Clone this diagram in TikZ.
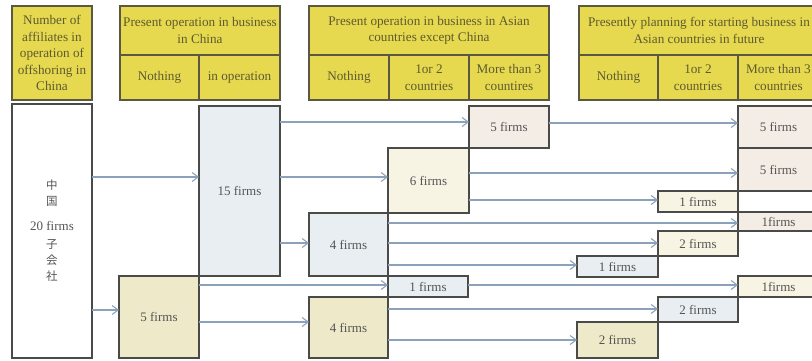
\documentclass[tikz,border=0pt]{standalone}
\usepackage{fontspec}
\setmainfont{Liberation Serif}
\newfontfamily\cjkfont{Noto Sans CJK JP}
\usetikzlibrary{arrows.meta}

\definecolor{hdr}{HTML}{E6D94F}
\definecolor{hdrtext}{HTML}{5E5A30}
\definecolor{hdrbord}{HTML}{5A5840}
\definecolor{bordercol}{HTML}{4A4A48}
\definecolor{linecol}{HTML}{8CA2BA}
\definecolor{fblue}{HTML}{E8EEF2}
\definecolor{fkhaki}{HTML}{EEE9C8}
\definecolor{fpink}{HTML}{F4EDE6}
\definecolor{fcream}{HTML}{F8F4E4}
\definecolor{bodytext}{HTML}{555555}

% \bx{style}{name}{x1}{y1}{x2}{y2}{text}
\newcommand\bx[7]{%
  \node[#1, minimum width={(#5-#3)*1pt}, minimum height={(#6-#4)*1pt}]
    (#2) at ({(#3+#5)/2},{(#4+#6)/2}) {#7};}
\newcommand\ar[3]{\draw[arr] (#1.east |- 0,#3) -- (#2.west |- 0,#3);}
\newcommand\cj[1]{{\cjkfont\fontsize{11.5}{16}\selectfont #1}}

\tikzset{
  hbox/.style={draw=hdrbord, line width=1.3pt, fill=hdr, text=hdrtext,
    font=\fontsize{13.2}{16.5}\selectfont, align=center, inner sep=0pt, outer sep=0pt},
  fbox/.style={draw=bordercol, line width=2.6pt, text=bodytext,
    font=\fontsize{13}{16}\selectfont, align=center, inner sep=0pt, outer sep=0pt},
  arr/.style={draw=linecol, line width=1.1pt, -{Straight Barb[length=6pt,width=9pt]}},
}

\begin{document}
\begin{tikzpicture}[x=1pt,y=-1pt]
\clip (0,0) rectangle (812,361);
\fill[white] (0,0) rectangle (812,361);

% headers
\bx{hbox}{h1}{12}{6}{92}{100}{Number of\\affiliates in\\operation of\\offshoring in\\China}
\bx{hbox}{h2t}{120}{6}{280}{55}{Present operation in business\\in China}
\bx{hbox}{h2a}{120}{55}{199}{100}{Nothing}
\bx{hbox}{h2b}{199}{55}{280}{100}{in operation}
\bx{hbox}{h3t}{309}{6}{549}{55}{Present operation in business in Asian\\countries except China}
\bx{hbox}{h3a}{309}{55}{389}{100}{Nothing}
\bx{hbox}{h3b}{389}{55}{469}{100}{1or 2\\countries}
\bx{hbox}{h3c}{469}{55}{549}{100}{More than 3\\countires}
\bx{hbox}{h4t}{579}{6}{819}{55}{Presently planning for starting business in\\Asian countries in future}
\bx{hbox}{h4a}{579}{55}{658}{100}{Nothing}
\bx{hbox}{h4b}{658}{55}{738}{100}{1or 2\\countries}
\bx{hbox}{h4c}{738}{55}{819}{100}{More than 3\\countries}

% body boxes
\bx{fbox,fill=white}{b20}{12}{104}{92}{358}{\cj{中}\\\cj{国}\\[9pt]20 firms\\[2pt]\cj{子}\\\cj{会}\\\cj{社}}
\bx{fbox,fill=fblue}{b15}{199}{106}{280}{276}{15 firms}
\bx{fbox,fill=fkhaki}{b5}{119}{276}{199}{358}{5 firms}
\bx{fbox,fill=fpink}{c3}{469}{106}{549}{148}{5 firms}
\bx{fbox,fill=fcream}{c6}{388}{148}{469}{213}{6 firms}
\bx{fbox,fill=fblue}{c4a}{309}{213}{388}{276}{4 firms}
\bx{fbox,fill=fblue}{c1}{388}{276}{468}{297}{1 firms}
\bx{fbox,fill=fkhaki}{c4b}{309}{297}{388}{358}{4 firms}
\bx{fbox,fill=fpink}{d5a}{738}{106}{819}{148}{5 firms}
\bx{fbox,fill=fpink}{d5b}{738}{148}{819}{191}{5 firms}
\bx{fbox,fill=fcream}{d1a}{658}{191}{738}{212}{1 firms}
\bx{fbox,fill=fpink}{d1b}{738}{212}{819}{231}{1firms}
\bx{fbox,fill=fcream}{d2a}{658}{231}{738}{256}{2 firms}
\bx{fbox,fill=fblue}{d1c}{577}{256}{658}{277}{1 firms}
\bx{fbox,fill=fcream}{d1d}{738}{276}{819}{297}{1firms}
\bx{fbox,fill=fblue}{d2b}{658}{297}{738}{322}{2 firms}
\bx{fbox,fill=fkhaki}{d2c}{577}{322}{658}{358}{2 firms}

% arrows
\ar{b20}{b15}{177}
\ar{b20}{b5}{310}
\ar{b15}{c3}{122}
\ar{b15}{c6}{177}
\ar{b15}{c4a}{243}
\ar{b5}{c1}{285}
\ar{b5}{c4b}{322}
\ar{c3}{d5a}{123}
\ar{c6}{d5b}{173}
\ar{c6}{d1a}{200}
\ar{c4a}{d1b}{223}
\ar{c4a}{d2a}{243}
\ar{c4a}{d1c}{265}
\ar{c1}{d1d}{285}
\ar{c4b}{d2b}{309}
\ar{c4b}{d2c}{340}
\end{tikzpicture}
\end{document}
